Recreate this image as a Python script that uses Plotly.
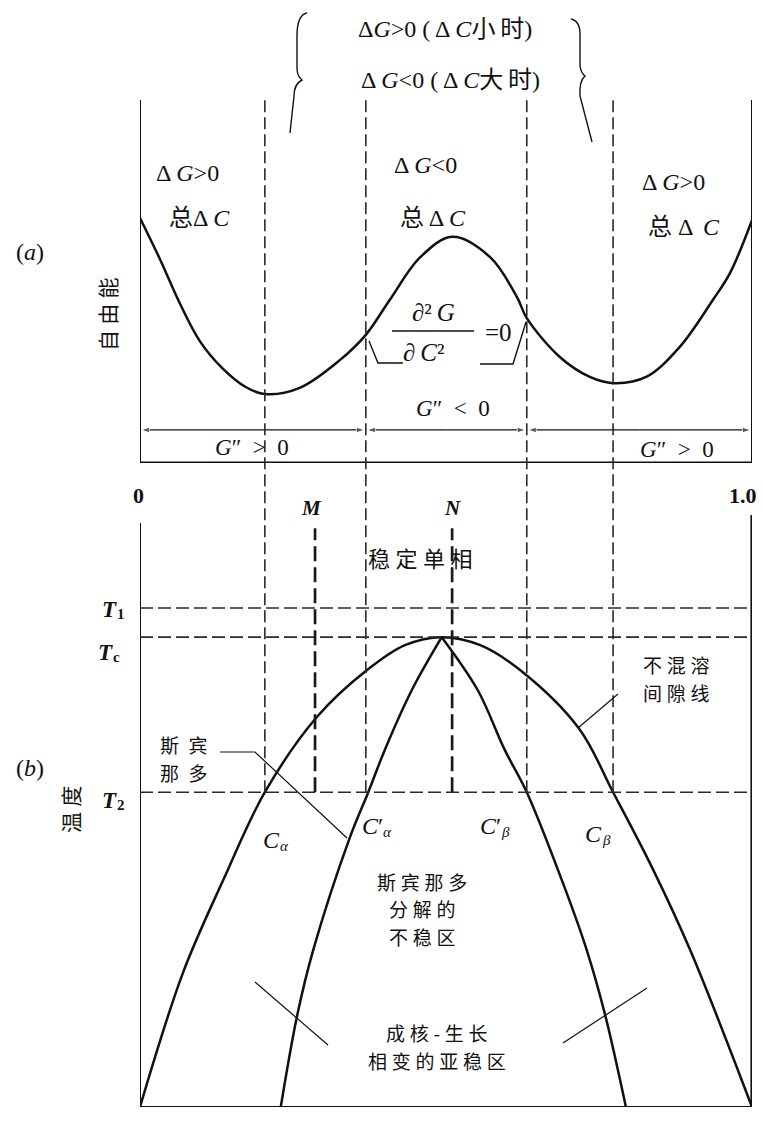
import plotly.graph_objects as go

# ---------------------------------------------------------------------------
# Data (composition C runs 0 .. 1 along both panels)
# ---------------------------------------------------------------------------
# (a) free energy G(C) at temperature T2, arbitrary units
g_c = [0.000, 0.033, 0.065, 0.098, 0.134, 0.172, 0.204, 0.261, 0.327, 0.369,
       0.408, 0.458, 0.510, 0.572, 0.616, 0.632, 0.686, 0.735, 0.773, 0.827,
       0.882, 0.936, 0.964, 1.000]
g_val = [0.675, 0.560, 0.440, 0.335, 0.262, 0.210, 0.190, 0.207, 0.284, 0.353,
         0.449, 0.567, 0.623, 0.567, 0.457, 0.399, 0.292, 0.237, 0.220, 0.237,
         0.320, 0.449, 0.523, 0.669]

# (b) miscibility gap (binodal), temperature scaled so that Tc = 1
bin_c = [0.000, 0.070, 0.136, 0.204, 0.289, 0.371, 0.433, 0.493, 0.556, 0.621,
         0.717, 0.773, 0.837, 0.899, 1.000]
bin_t = [0.000, 0.285, 0.483, 0.670, 0.830, 0.930, 0.983, 1.000, 0.983, 0.930,
         0.806, 0.670, 0.509, 0.334, 0.000]

# chemical spinodal, left and right branches
spl_c = [0.230, 0.257, 0.283, 0.343, 0.373, 0.400, 0.444, 0.493]
spl_t = [0.000, 0.196, 0.334, 0.574, 0.670, 0.760, 0.887, 1.000]
spr_c = [0.493, 0.552, 0.596, 0.632, 0.691, 0.730, 0.760, 0.794]
spr_t = [1.000, 0.887, 0.760, 0.670, 0.477, 0.334, 0.196, 0.000]

# characteristic temperatures and their subscripts
T1, TC, T2 = 1.062, 1.000, 0.670
temp_levels = [T1, TC, T2]
temp_subs = ["1", "c", "2"]

# characteristic compositions at T2 and the two alloys M, N
C_ALPHA, C_ALPHA_S, C_BETA_S, C_BETA = 0.204, 0.369, 0.632, 0.773
C_M, C_N = 0.286, 0.510

# composition axis end labels
comp_ticks = [0.0, 1.0]
comp_tick_text = ["0", "1.0"]

# ---------------------------------------------------------------------------
W, H = 763, 1129
ML, MR = 140, 11
PW = W - ML - MR
G_DOM = [1 - 463 / H, 1 - 100 / H]     # panel (a)
T_DOM = [1 - 1107 / H, 1 - 515 / H]    # panel (b)
G_RANGE = [0.0, 1.0]
T_RANGE = [0.0, 1.26]
G_DIM = 0.091                          # level of the dimension arrows in (a)

INK = "#111111"
SERIF = "Liberation Serif, DejaVu Serif, Noto Sans CJK SC, serif"
CJK = "Noto Sans CJK SC, sans-serif"
TS = "\u2009"   # thin space
QS = "\u2005"   # quarter-em space
EN = "\u2002"   # en space


def px(x):
    return (x - ML) / PW


def py(y):
    return 1 - y / H


def g_paper(g):
    return G_DOM[0] + (g - G_RANGE[0]) / (G_RANGE[1] - G_RANGE[0]) * (G_DOM[1] - G_DOM[0])


def t_paper(t):
    return T_DOM[0] + (t - T_RANGE[0]) / (T_RANGE[1] - T_RANGE[0]) * (T_DOM[1] - T_DOM[0])


def spaced(s, gap=QS):
    return gap.join(s)


fig = go.Figure()

curve = dict(color=INK, width=2.5, shape="spline", smoothing=1.0)
fig.add_trace(go.Scatter(x=g_c, y=g_val, mode="lines", line=curve,
                         xaxis="x", yaxis="y", hoverinfo="skip"))
fig.add_trace(go.Scatter(x=bin_c, y=bin_t, mode="lines", line=curve,
                         xaxis="x", yaxis="y2", hoverinfo="skip"))
fig.add_trace(go.Scatter(x=spl_c, y=spl_t, mode="lines", line=curve,
                         xaxis="x", yaxis="y2", hoverinfo="skip"))
fig.add_trace(go.Scatter(x=spr_c, y=spr_t, mode="lines", line=curve,
                         xaxis="x", yaxis="y2", hoverinfo="skip"))

# dimension arrows G'' > 0 | G'' < 0 | G'' > 0, heads pointing outwards
for a, b in [(0.0, C_ALPHA_S), (C_ALPHA_S, C_BETA_S), (C_BETA_S, 1.0)]:
    mid = (a + b) / 2
    for end in (a, b):
        fig.add_trace(go.Scatter(
            x=[mid, end], y=[G_DIM, G_DIM], mode="lines+markers",
            line=dict(color=INK, width=1.3),
            marker=dict(symbol="arrow", angleref="previous", size=[0, 9],
                        standoff=1, color=INK),
            xaxis="x", yaxis="y", hoverinfo="skip"))

shapes = []


def seg(x0, y0, x1, y1, xref, yref, width=1.6, dash=None, color=INK):
    ln = dict(color=color, width=width)
    if dash:
        ln["dash"] = dash
    shapes.append(dict(type="line", x0=x0, y0=y0, x1=x1, y1=y1,
                       xref=xref, yref=yref, line=ln, layer="above"))


def poly(points, width=1.3):
    d = "M " + " L ".join(f"{px(a):.5f},{py(b):.5f}" for a, b in points)
    shapes.append(dict(type="path", path=d, xref="paper", yref="paper",
                       line=dict(color=INK, width=width)))


# panel (a) frame
seg(0, 0, 0, 1, "x", "y", width=2)
seg(1, 0, 1, 1, "x", "y", width=2)
seg(0, 0, 1, 0, "x", "y", width=3)

# panel (b) frame
seg(0, 0, 0, 1.243, "x", "y2", width=2)
seg(1, 0, 1, T_RANGE[1], "x", "y2", width=3.2)
seg(0, 0, 1, 0, "x", "y2", width=2)

# vertical construction lines through both panels, down to T2
DASH = "12px,5px"
for c in [C_ALPHA, C_ALPHA_S, C_BETA_S, C_BETA]:
    seg(c, t_paper(T2), c, g_paper(G_RANGE[1]), "x", "paper", width=1.6,
        dash=DASH, color="#2a2a2a")

# temperature levels
for t in temp_levels:
    seg(0, t, 1, t, "x", "y2", width=1.6, dash="13px,5px", color="#2a2a2a")

# alloys M and N
for c in [C_M, C_N]:
    seg(c, T2, c, 1.232, "x", "y2", width=2.7, dash="15px,6px", color="#1a1a1a")

# fraction bar of the second derivative
poly([(392, 331), (474, 331)], width=1.4)
# leaders of the inflection-point condition
poly([(369, 341), (378, 363), (403, 363)], width=1.4)
poly([(480, 364), (513, 364), (526, 322)], width=1.4)
# spinodal leader
poly([(220, 752), (255, 752), (347, 838)], width=1.2)
# miscibility-gap leader
poly([(578, 728), (618, 694)], width=1.2)
# metastable-region pointers
poly([(255, 982), (328, 1045)], width=1.2)
poly([(563, 1043), (647, 988)], width=1.2)

# braces around the upper statements
shapes.append(dict(
    type="path", xref="paper", yref="paper", line=dict(color=INK, width=1.4),
    path=(f"M {px(307):.5f},{py(13):.5f} Q {px(297):.5f},{py(15):.5f} {px(297):.5f},{py(36):.5f} "
          f"L {px(297):.5f},{py(68):.5f} Q {px(297):.5f},{py(76):.5f} {px(302):.5f},{py(80):.5f} "
          f"Q {px(294):.5f},{py(84):.5f} {px(294):.5f},{py(96):.5f} L {px(290):.5f},{py(133):.5f}")))
shapes.append(dict(
    type="path", xref="paper", yref="paper", line=dict(color=INK, width=1.4),
    path=(f"M {px(571):.5f},{py(19):.5f} Q {px(581):.5f},{py(21):.5f} {px(580):.5f},{py(38):.5f} "
          f"L {px(580):.5f},{py(66):.5f} Q {px(581):.5f},{py(73):.5f} {px(585):.5f},{py(76):.5f} "
          f"Q {px(579):.5f},{py(81):.5f} {px(580):.5f},{py(96):.5f} L {px(592):.5f},{py(142):.5f}")))

annotations = []


def lab(x, y, text, size=20, family=SERIF, angle=0, xanchor="center", tight=False):
    ann = dict(x=px(x), y=py(y), xref="paper", yref="paper", text=text,
               showarrow=False, textangle=angle,
               xanchor=xanchor, yanchor="middle",
               font=dict(family=family, size=size, color=INK))
    if tight:
        ann.update(borderpad=0, borderwidth=0)
    annotations.append(ann)


def sublab(x, y, main, sub, size=24, sub_size=15, drop=6):
    """Symbol with a lowered index: main text ends at x, the index starts there."""
    lab(x, y, main, size=size, xanchor="right", tight=True)
    lab(x, y + drop, sub, size=sub_size, xanchor="left", tight=True)


def lines(x, y0, step, rows, size=19):
    for i, r in enumerate(rows):
        lab(x, y0 + i * step, r, size=size, family=CJK)


# statements above panel (a)
lab(445, 29, f"Δ<i>G</i>&gt;0 ({TS}Δ{TS}<i>C</i>小{TS}时)", size=24)
lab(450, 80, f"Δ{TS}<i>G</i>&lt;0 ({TS}Δ{TS}<i>C</i>大{TS}时)", size=24)

# panel (a) region notes
lab(187, 173, f"Δ{TS}<i>G</i>&gt;0", size=24)
lab(199, 218, f"总Δ{TS}<i>C</i>", size=24)
lab(425, 165, f"Δ{TS}<i>G</i>&lt;0", size=24)
lab(433, 218, f"总{TS}Δ{TS}<i>C</i>", size=24)
lab(673, 182, f"Δ{TS}<i>G</i>&gt;0", size=24)
lab(684, 227, f"总 Δ {TS}<i>C</i>", size=24)

lab(30, 252, "(<i>a</i>)", size=24)
lab(107, 314, spaced("自由能"), size=21, family=CJK, angle=-90)

# inflection condition
lab(433, 313, f"∂²{TS}<i>G</i>", size=25)
lab(424, 352, f"∂{TS}<i>C</i>²", size=25)
lab(498, 332, "=0", size=25)

lab(453, 408, f"<i>G</i>″{EN}&lt;{EN}0", size=23)
lab(252, 447, f"<i>G</i>″{EN}&gt;{EN}0", size=23)
lab(677, 450, f"<i>G</i>″{EN}&gt;{EN}0", size=23)

# composition axis ends and alloys
for c, t, x_off in zip(comp_ticks, comp_tick_text, [-2, -9]):
    annotations.append(dict(x=c, y=py(495), xref="x", yref="paper", text=f"<b>{t}</b>",
                            showarrow=False, xshift=x_off, yanchor="middle",
                            font=dict(family=SERIF, size=22, color=INK)))
annotations.append(dict(x=C_M, y=py(508), xref="x", yref="paper", text="<b><i>M</i></b>",
                        showarrow=False, xshift=-4, yanchor="middle",
                        font=dict(family=SERIF, size=21, color=INK)))
annotations.append(dict(x=C_N, y=py(508), xref="x", yref="paper", text="<b><i>N</i></b>",
                        showarrow=False, yanchor="middle",
                        font=dict(family=SERIF, size=21, color=INK)))

lab(420, 557, spaced("稳定单相"), size=22, family=CJK)

# temperature labels sit at their levels
for t, sub, x_end, shift in zip(temp_levels, temp_subs, [117, 113, 117], [1, 15, 8]):
    y_pix = (1 - t_paper(t)) * H + shift
    for txt, anchor, dy, size in [("<b><i>T</i></b>", "right", 0, 23),
                                  (f"<b>{sub}</b>", "left", 5, 15)]:
        annotations.append(dict(x=px(x_end), y=py(y_pix + dy), xref="paper", yref="paper",
                                text=txt, showarrow=False, borderpad=0, borderwidth=0,
                                xanchor=anchor, yanchor="middle",
                                font=dict(family=SERIF, size=size, color=INK)))

lab(30, 768, "(<i>b</i>)", size=24)
lab(70, 810, spaced("温度"), size=21, family=CJK, angle=-90)

lines(184, 744, 28, [EN.join("斯宾"), EN.join("那多")], size=19)
lines(676, 664, 28, [spaced("不混溶"), spaced("间隙线")], size=19)

sublab(280, 840, "<i>C</i>", "<i>α</i>")
sublab(383, 826, "<i>C</i>′", "<i>α</i>")
sublab(501, 826, "<i>C</i>′", "<i>β</i>")
sublab(602, 834, "<i>C</i>", "<i>β</i>")

lines(422, 881, 27.5, [spaced("斯宾那多"), spaced("分解的"), spaced("不稳区")], size=19)
lines(437, 1032, 28, [spaced("成核-生长"), spaced("相变的亚稳区")], size=19)

fig.update_layout(
    width=W, height=H,
    margin=dict(l=ML, r=MR, t=0, b=0),
    paper_bgcolor="white", plot_bgcolor="rgba(0,0,0,0)",
    showlegend=False,
    xaxis=dict(range=[0, 1], domain=[0, 1], visible=False, anchor="y2", fixedrange=True),
    yaxis=dict(range=G_RANGE, domain=G_DOM, visible=False, anchor="x", fixedrange=True),
    yaxis2=dict(range=T_RANGE, domain=T_DOM, visible=False, anchor="x", fixedrange=True),
    shapes=shapes,
    annotations=annotations,
)

fig.write_html("out.html")
